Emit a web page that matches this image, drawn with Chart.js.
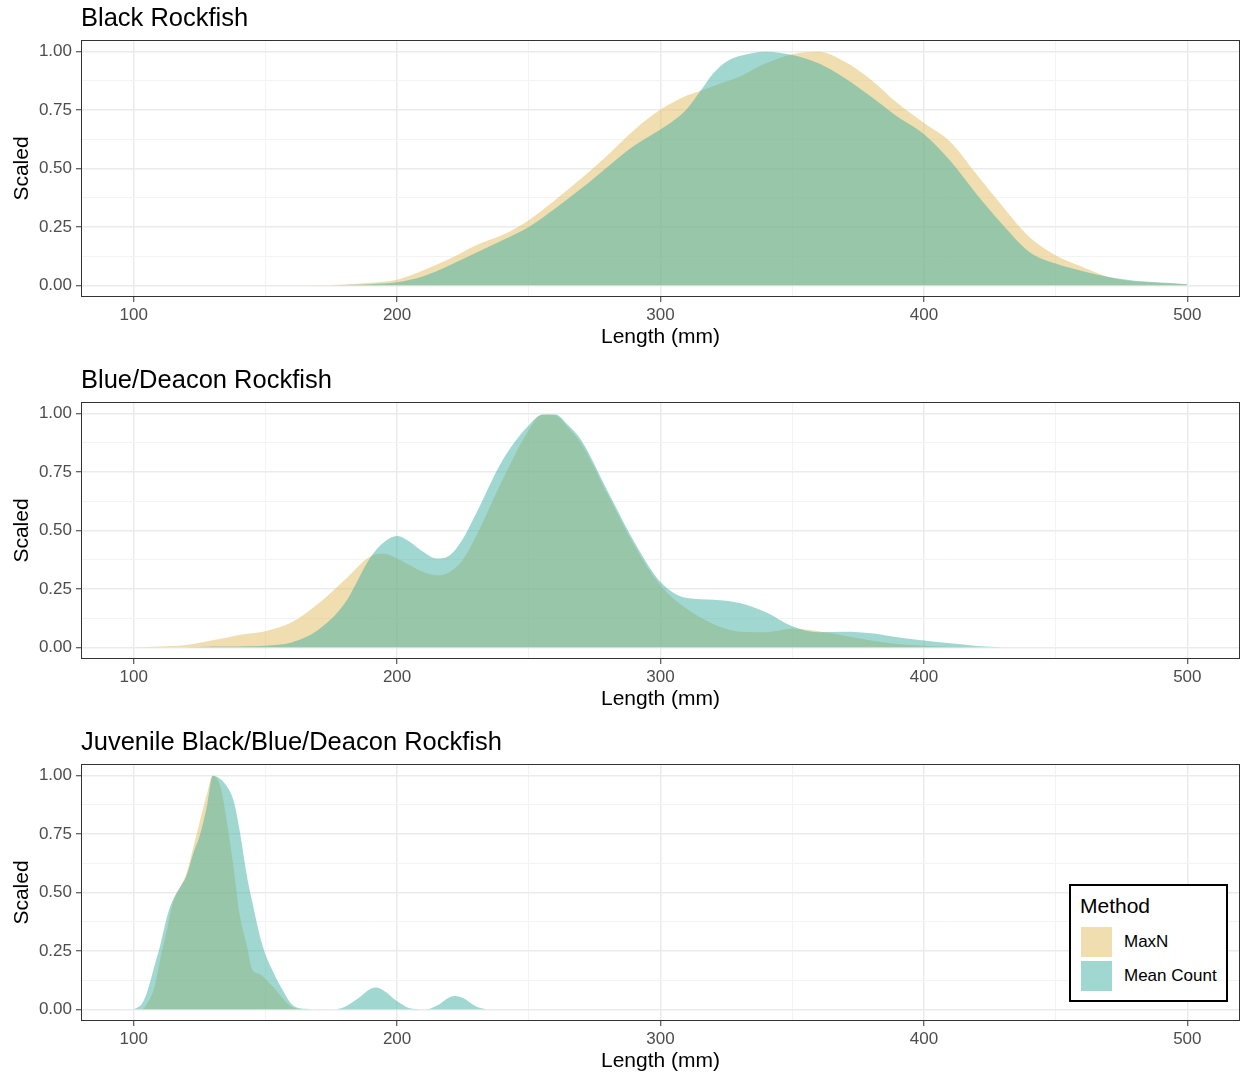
<!DOCTYPE html>
<html>
<head>
<meta charset="utf-8">
<script src="https://cdn.jsdelivr.net/npm/chart.js@4.4.1/dist/chart.umd.min.js"></script>
<style>
  body { margin: 0; background: #fff; width: 1241px; height: 1074px; position: relative; overflow: hidden;
         font-family: 'Liberation Sans', Arial, sans-serif; }
  canvas { position: absolute; left: 0; }
  #legend { position: absolute; left: 1069px; top: 884px; width: 159px; height: 118px; box-sizing: border-box;
            border: 2px solid #000; background: #fff; }
  #legend div { position: absolute; white-space: nowrap; }
</style>
</head>
<body>
<canvas id="c1" width="1241" height="362" style="top:0px"></canvas>
<canvas id="c2" width="1241" height="362" style="top:362px"></canvas>
<canvas id="c3" width="1241" height="350" style="top:724px"></canvas>
<div id="legend"></div>
<script>
// data
var methods = ["MaxN", "Mean Count"];
var xTicks = [100, 150, 200, 250, 300, 350, 400, 450, 500];
var xMajor = [100, 200, 300, 400, 500];
var yTicks = [0, 0.125, 0.25, 0.375, 0.5, 0.625, 0.75, 0.875, 1];
var yMajor = [0, 0.25, 0.5, 0.75, 1];

// Black Rockfish
var blackLen = [160,170,180,190,200,210,220,230,240,250,260,270,280,290,300,305,310,315,320,325,330,340,350,360,370,380,390,400,410,420,430,440,450,460,470,480,490,500];
var blackMaxN = [0,0.001,0.004,0.011,0.024,0.064,0.114,0.172,0.215,0.279,0.365,0.458,0.558,0.665,0.752,0.785,0.812,0.832,0.852,0.872,0.893,0.95,0.989,1.0,0.957,0.879,0.779,0.695,0.615,0.475,0.336,0.207,0.129,0.079,0.036,0.017,0.01,0.004];
var blackMean = [0,0,0.001,0.005,0.013,0.039,0.086,0.139,0.193,0.25,0.329,0.415,0.508,0.597,0.667,0.705,0.755,0.83,0.907,0.957,0.981,1.0,0.986,0.95,0.886,0.807,0.721,0.647,0.533,0.39,0.258,0.143,0.093,0.061,0.036,0.02,0.012,0.005];

// Blue/Deacon Rockfish
var blueLen = [100,110,120,130,140,150,160,170,180,190,195,200,205,210,215,220,225,230,240,250,255,260,265,270,280,290,300,310,320,330,340,350,360,370,380,390,400,410,420,430];
var blueMaxN = [0,0.003,0.01,0.03,0.053,0.069,0.107,0.186,0.287,0.39,0.4,0.38,0.35,0.322,0.308,0.322,0.376,0.476,0.716,0.93,0.997,0.993,0.94,0.87,0.653,0.438,0.265,0.165,0.1,0.067,0.065,0.079,0.069,0.05,0.029,0.014,0.007,0.002,0,0];
var blueMean = [0,0,0,0.003,0.004,0.007,0.021,0.074,0.186,0.387,0.45,0.476,0.45,0.408,0.38,0.394,0.465,0.573,0.8,0.95,0.995,0.997,0.95,0.885,0.667,0.452,0.28,0.211,0.204,0.19,0.15,0.09,0.065,0.067,0.06,0.043,0.029,0.017,0.006,0];

// Juvenile Black/Blue/Deacon Rockfish
var juvLen = [100,103,105,108,110,113,115,118,120,123,125,128,130,133,135,138,140,143,145,148,150,153,156,160,165,170,176,180,185,190,192,195,200,206,211,215,220,222,225,230,234];
var juvMaxN = [0,0,0.022,0.1,0.21,0.36,0.46,0.53,0.58,0.71,0.8,0.93,1.0,0.95,0.83,0.6,0.42,0.27,0.17,0.15,0.13,0.095,0.055,0.01,0,0,0,0,0,0,0,0,0,0,0,0,0,0,0,0,0];
var juvMean = [0,0.022,0.07,0.19,0.27,0.41,0.47,0.53,0.57,0.68,0.74,0.88,1.0,0.985,0.96,0.89,0.78,0.57,0.46,0.31,0.236,0.16,0.093,0.022,0.002,0,0,0.01,0.045,0.088,0.093,0.08,0.035,0.002,0,0.015,0.052,0.057,0.048,0.012,0];

var fills = ["rgba(225,187,97,0.5)", "rgba(65,175,161,0.5)"];

Chart.defaults.font.family = "'Liberation Sans', Arial, sans-serif";

var panelBorder = {
  id: "panelBorder",
  afterDatasetsDraw: function (chart) {
    var a = chart.chartArea, ctx = chart.ctx;
    ctx.save();
    ctx.strokeStyle = "#333333";
    ctx.lineWidth = 1;
    ctx.strokeRect(Math.round(a.left) + 0.5, Math.round(a.top) + 0.5,
      Math.round(a.right - a.left) - 1, Math.round(a.bottom - a.top) - 1);
    ctx.restore();
  },
};

function pts(xs, ys) {
  return xs.map(function (x, i) { return { x: x, y: ys[i] }; });
}

function gridOpts(major) {
  return {
    color: function (c) { return c.tick && major.indexOf(c.tick.value) >= 0 ? "#EBEBEB" : "#F3F3F3"; },
    lineWidth: function (c) { return c.tick && major.indexOf(c.tick.value) >= 0 ? 1.5 : 1; },
    tickColor: function (c) { return c.tick && major.indexOf(c.tick.value) >= 0 ? "#333333" : "rgba(0,0,0,0)"; },
    tickWidth: 1,
    tickLength: 5,
  };
}

function makePanel(id, title, lengths, maxN, mean, padBottom) {
  return new Chart(document.getElementById(id).getContext("2d"), {
    type: "line",
    data: {
      datasets: [
        { label: methods[0], data: pts(lengths, maxN), backgroundColor: fills[0], fill: "origin", order: 2 },
        { label: methods[1], data: pts(lengths, mean), backgroundColor: fills[1], fill: "origin", order: 1 },
      ],
    },
    options: {
      responsive: false,
      animation: false,
      devicePixelRatio: 1,
      layout: { padding: { left: 0, right: 1, top: 0, bottom: padBottom } },
      elements: {
        line: { borderWidth: 0, cubicInterpolationMode: "monotone" },
        point: { radius: 0 },
      },
      plugins: {
        legend: { display: false },
        tooltip: { enabled: false },
        title: {
          display: true,
          text: title,
          align: "start",
          fullSize: false,
          color: "#000",
          font: { size: 25.5, weight: "normal" },
          padding: { top: 3.7, bottom: 5.7 },
        },
      },
      scales: {
        x: {
          type: "linear",
          min: 80,
          max: 520,
          afterBuildTicks: function (s) { s.ticks = xTicks.map(function (v) { return { value: v }; }); },
          afterFit: function (s) { s.height = 53; },
          grid: gridOpts(xMajor),
          border: { display: false },
          ticks: {
            autoSkip: false,
            maxRotation: 0,
            padding: 3,
            color: "#4D4D4D",
            font: { size: 17 },
            callback: function (v) { return xMajor.indexOf(v) >= 0 ? String(v) : ""; },
          },
          title: { display: true, text: "Length (mm)", color: "#000", font: { size: 21 }, padding: { top: 0, bottom: 0 } },
        },
        y: {
          min: -0.05,
          max: 1.05,
          afterBuildTicks: function (s) { s.ticks = yTicks.map(function (v) { return { value: v }; }); },
          afterFit: function (s) { s.width = 81; },
          grid: gridOpts(yMajor),
          border: { display: false },
          ticks: {
            autoSkip: false,
            padding: 4,
            color: "#4D4D4D",
            font: { size: 17 },
            callback: function (v) { return yMajor.indexOf(v) >= 0 ? v.toFixed(2) : ""; },
          },
          title: { display: true, text: "Scaled", color: "#000", font: { size: 21 }, padding: { top: 10, bottom: 0 } },
        },
      },
    },
    plugins: [panelBorder],
  });
}

makePanel("c1", "Black Rockfish", blackLen, blackMaxN, blackMean, 12);
makePanel("c2", "Blue/Deacon Rockfish", blueLen, blueMaxN, blueMean, 12);
makePanel("c3", "Juvenile Black/Blue/Deacon Rockfish", juvLen, juvMaxN, juvMean, 0);

// legend
var lg = document.getElementById("legend");
var html = '<div style="left:9px;top:8px;font-size:21px;line-height:24px;color:#000">Method</div>';
methods.forEach(function (m, i) {
  var top = 41 + i * 33.5;
  html += '<div style="left:10px;top:' + top + 'px;width:31px;height:30px;background:' + fills[i] + '"></div>';
  html += '<div style="left:53px;top:' + (top + 5) + 'px;font-size:17px;line-height:20px;color:#000">' + m + '</div>';
});
lg.innerHTML = html;
</script>
</body>
</html>
